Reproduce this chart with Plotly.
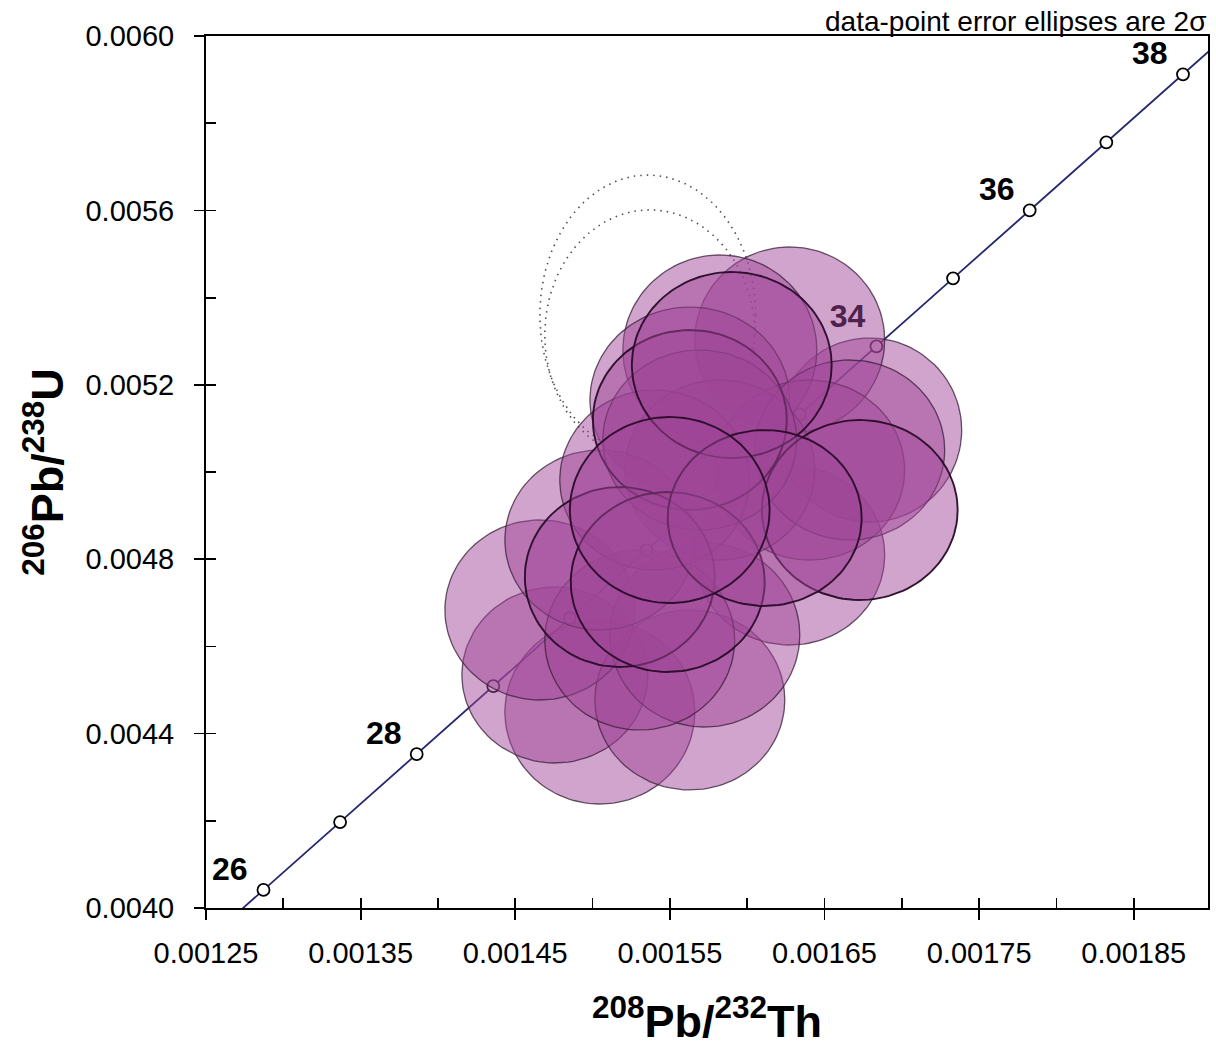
import numpy as np
import plotly.graph_objects as go

# ---------------- data ----------------
# accepted analyses: centre and 2-sigma half-widths
th_ratio = [0.0015047, 0.0014756, 0.0015629, 0.0014659, 0.0016275, 0.0015726,
            0.0015305, 0.0016792, 0.0016275, 0.0015823, 0.0015629, 0.0016404,
            0.0015823, 0.0015047, 0.0015402, 0.0016663, 0.0015693, 0.0015629,
            0.0015900, 0.0016728, 0.0015176, 0.0015486, 0.0016113, 0.0015499]
u_ratio = [0.0044495, 0.0045344, 0.0044771, 0.0046835, 0.0048096, 0.0046261,
           0.0046147, 0.0050963, 0.0053028, 0.0052798, 0.0051651, 0.0050046,
           0.0050046, 0.0048440, 0.0049817, 0.0050505, 0.0050734, 0.0051193,
           0.0052454, 0.0049128, 0.0047592, 0.0047477, 0.0048945, 0.0049128]
th_err = [6.14e-5, 6.01e-5, 6.14e-5, 6.14e-5, 6.14e-5, 6.14e-5,
          6.14e-5, 5.95e-5, 6.14e-5, 6.27e-5, 6.46e-5, 6.14e-5,
          6.14e-5, 6.14e-5, 6.14e-5, 6.14e-5, 6.27e-5, 6.27e-5,
          6.46e-5, 6.33e-5, 6.14e-5, 6.27e-5, 6.27e-5, 6.46e-5]
u_err = [2.110e-4, 2.018e-4, 2.064e-4, 2.064e-4, 2.064e-4, 2.110e-4,
         2.064e-4, 2.110e-4, 2.133e-4, 2.179e-4, 2.133e-4, 2.064e-4,
         2.064e-4, 2.064e-4, 2.064e-4, 2.064e-4, 2.064e-4, 2.064e-4,
         2.133e-4, 2.064e-4, 2.064e-4, 2.064e-4, 2.018e-4, 2.133e-4]

# rejected analyses (dotted, unfilled)
rej_th_ratio = [0.0015357, 0.0015370]
rej_u_ratio = [0.0053601, 0.0053142]
rej_th_err = [6.98e-5, 6.79e-5]
rej_u_err = [3.21e-4, 2.87e-4]

# concordia age marks (Ma) and labelled ages
concordia_ages = [26, 27, 28, 29, 30, 31, 32, 33, 34, 35, 36, 37, 38]
labelled_ages_open = [26, 28, 36, 38]     # labels clear of the data
labelled_ages_hidden = [34]               # label lying beneath the ellipses
curve_age_span = [25.5, 39.5]

# decay constants (per year)
LAMBDA_232 = 4.9475e-11
LAMBDA_238 = 1.55125e-10

x_range = [0.00125, 0.001898]
y_range = [0.0040, 0.0060]

# ---------------- styles ----------------
FILL = "rgba(160,70,150,0.49)"
LINE_LIGHT = "rgba(55,30,55,0.75)"
LINE_DARK = "rgba(40,12,40,0.95)"
n_dark = 7  # the last drawn ellipses carry the heavier outlines
FONT = "Arial, Liberation Sans, Helvetica, sans-serif"
LABEL_FONT = dict(family=FONT, size=32, color="black", weight="bold")


def ratios(age_ma):
    t = np.asarray(age_ma, dtype=float) * 1e6
    return np.expm1(LAMBDA_232 * t), np.expm1(LAMBDA_238 * t)


def ellipse(cx, cy, ex, ey, n=120):
    a = np.linspace(0, 2 * np.pi, n)
    return cx + ex * np.cos(a), cy + ey * np.sin(a)


fig = go.Figure()

# rejected (dotted) ellipses
for cx, cy, ex, ey in zip(rej_th_ratio, rej_u_ratio, rej_th_err, rej_u_err):
    xs, ys = ellipse(cx, cy, ex, ey)
    fig.add_trace(go.Scatter(x=xs, y=ys, mode="lines",
                             line=dict(color="rgb(80,80,80)", width=1.6, dash="1.5px,5px"),
                             hoverinfo="skip", showlegend=False))

# concordia curve
ages_fine = np.linspace(curve_age_span[0], curve_age_span[1], 300)
cx_c, cy_c = ratios(ages_fine)
fig.add_trace(go.Scatter(x=cx_c, y=cy_c, mode="lines",
                         line=dict(color="#25286e", width=1.8),
                         hoverinfo="skip", showlegend=False))

# age marks
mx, my = ratios(concordia_ages)
fig.add_trace(go.Scatter(x=mx, y=my, mode="markers",
                         marker=dict(size=12, color="white",
                                     line=dict(color="black", width=1.8)),
                         hoverinfo="skip", showlegend=False))

# age label beneath the ellipses
hx, hy = ratios(labelled_ages_hidden)
fig.add_trace(go.Scatter(x=hx, y=hy, mode="markers+text",
                         text=[str(a) for a in labelled_ages_hidden],
                         textposition="top left", textfont=LABEL_FONT,
                         marker=dict(size=16, color="rgba(0,0,0,0)"),
                         hoverinfo="skip", showlegend=False))

# data-point error ellipses
n_tot = len(th_ratio)
for i, (cx, cy, ex, ey) in enumerate(zip(th_ratio, u_ratio, th_err, u_err)):
    xs, ys = ellipse(cx, cy, ex, ey)
    dark = i >= n_tot - n_dark
    fig.add_trace(go.Scatter(x=xs, y=ys, mode="lines", fill="toself",
                             fillcolor=FILL,
                             line=dict(color=LINE_DARK if dark else LINE_LIGHT,
                                       width=1.9 if dark else 1.3),
                             hoverinfo="skip", showlegend=False))

# empty trace to instantiate the overlay axes used for inward ticks
fig.add_trace(go.Scatter(x=[], y=[], xaxis="x2", yaxis="y2",
                         showlegend=False, hoverinfo="skip"))

annotations = []
ox, oy = ratios(labelled_ages_open)
for a, xv, yv in zip(labelled_ages_open, ox, oy):
    annotations.append(dict(x=xv, y=yv, xref="x", yref="y", text=str(a),
                            showarrow=False, xanchor="center", yanchor="middle",
                            xshift=-33, yshift=21, borderpad=0, font=LABEL_FONT))
annotations.append(dict(text="data-point error ellipses are 2σ",
                        xref="paper", yref="paper", x=1.0, y=1.0,
                        xanchor="right", yanchor="bottom", yshift=-2, xshift=-1,
                        borderpad=0,
                        showarrow=False, font=dict(size=28, family=FONT)))

x_title = "<b><sup>208</sup>Pb/<sup>232</sup>Th</b>"
y_title = "<b><sup>206</sup>Pb/<sup>238</sup>U</b>"

fig.update_layout(
    width=1216, height=1048,
    margin=dict(l=206, r=8, t=36, b=140),
    paper_bgcolor="white", plot_bgcolor="white",
    font=dict(family=FONT, color="black"),
    hovermode=False,
    xaxis=dict(range=x_range, tick0=0.00125, dtick=0.0001, tickformat=".5f",
               ticks="outside", ticklen=10, tickwidth=1.8, tickcolor="black",
               showline=True, linecolor="black", linewidth=2, mirror=True,
               showgrid=False, zeroline=False, automargin=False,
               tickfont=dict(size=29, family=FONT), ticklabelstandoff=8,
               title=dict(text=x_title, font=dict(size=45, family=FONT), standoff=38)),
    yaxis=dict(range=y_range, tick0=0.0040, dtick=0.0004, tickformat=".4f",
               ticks="outside", ticklen=10, tickwidth=1.8, tickcolor="black",
               showline=True, linecolor="black", linewidth=2, mirror=True,
               showgrid=False, zeroline=False, automargin=False,
               tickfont=dict(size=29, family=FONT), ticklabelstandoff=14,
               title=dict(text=y_title, font=dict(size=45, family=FONT), standoff=8)),
    xaxis2=dict(range=x_range, overlaying="x", anchor="y", side="bottom",
                tick0=0.00125, dtick=0.00005, ticks="inside", ticklen=10,
                tickwidth=1.8, tickcolor="black", showticklabels=False,
                showgrid=False, zeroline=False, showline=False, automargin=False),
    yaxis2=dict(range=y_range, overlaying="y", anchor="x", side="left",
                tick0=0.0040, dtick=0.0002, ticks="inside", ticklen=10,
                tickwidth=1.8, tickcolor="black", showticklabels=False,
                showgrid=False, zeroline=False, showline=False, automargin=False),
    annotations=annotations,
)

fig.write_html("out.html",
               config={"displayModeBar": False, "staticPlot": True},
               post_script="document.body.style.margin='0px';document.body.style.overflow='hidden';")
